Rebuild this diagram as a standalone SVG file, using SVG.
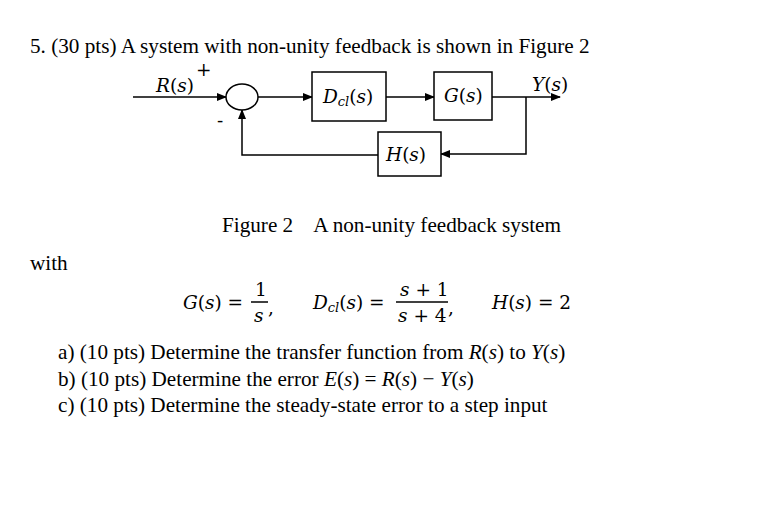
<svg xmlns="http://www.w3.org/2000/svg" width="774" height="513" viewBox="0 0 774 513">
<style>
.t{font-family:"Liberation Serif",serif;font-size:21.2px;fill:#000}
.m{font-family:"DejaVu Serif","Liberation Serif",serif;font-size:18.5px;fill:#000;font-style:italic}
.n{font-family:"DejaVu Serif","Liberation Serif",serif;font-size:18.5px;fill:#000}
.b{fill:#fff;stroke:#000;stroke-width:1.5}
.c{fill:none;stroke:#000;stroke-width:1.5}
</style>
<defs><marker id="a" markerWidth="10" markerHeight="8" refX="9" refY="4" orient="auto" markerUnits="userSpaceOnUse"><path d="M0,0L10,4L0,8z"/></marker></defs>
<rect width="774" height="513" fill="#fff"/>
<text class="t" x="30" y="53">5. (30 pts) A system with non-unity feedback is shown in Figure 2</text>
<g id="connectors">
<path class="c" d="M133,97H226" marker-end="url(#a)"/>
<path class="c" d="M258,97H312" marker-end="url(#a)"/>
<path class="c" d="M386,97H434" marker-end="url(#a)"/>
<path class="c" d="M492,97H560" marker-end="url(#a)"/>
<path class="c" d="M526,97V154H441" marker-end="url(#a)"/>
<path class="c" d="M378,155H242V110" marker-end="url(#a)"/>
</g>
<g id="sum"><ellipse class="b" cx="242" cy="97" rx="16" ry="13"/></g>
<g id="dcl"><rect class="b" x="312" y="72" width="74" height="49"/><text class="m" x="323" y="103">D<tspan font-size="13" dy="3">cl</tspan><tspan dy="-3" font-style="normal">(</tspan>s<tspan font-style="normal">)</tspan></text></g>
<g id="g"><rect class="b" x="434" y="72" width="58" height="48"/><text class="m" x="444" y="102">G<tspan font-style="normal">(</tspan>s<tspan font-style="normal">)</tspan></text></g>
<g id="h"><rect class="b" x="378" y="132" width="63" height="44"/><text class="m" x="386" y="161">H<tspan font-style="normal">(</tspan>s<tspan font-style="normal">)</tspan></text></g>
<text class="m" x="156" y="92">R<tspan font-style="normal">(</tspan>s<tspan font-style="normal">)</tspan></text>
<text class="n" x="196" y="76" font-size="14">+</text>
<text class="n" x="217" y="127" font-size="14">-</text>
<text class="m" x="532" y="91">Y<tspan font-style="normal">(</tspan>s<tspan font-style="normal">)</tspan></text>
<text class="t" x="222" y="232" xml:space="preserve">Figure 2    A non-unity feedback system</text>
<text class="t" x="30" y="270">with</text>
<text class="m" x="183" y="309">G<tspan font-style="normal">(</tspan>s<tspan font-style="normal">) =</tspan></text>
<text class="n" x="255" y="296">1</text><path class="c" d="M251,302H268" stroke-width="1"/><text class="m" x="254" y="322">s</text><text class="n" x="268" y="314">,</text>
<text class="m" x="313" y="309">D<tspan font-size="13" dy="3">cl</tspan><tspan dy="-3" font-style="normal">(</tspan>s<tspan font-style="normal">) =</tspan></text>
<text class="m" x="400" y="296">s<tspan font-style="normal"> + 1</tspan></text><path class="c" d="M396,302H448" stroke-width="1"/><text class="m" x="398" y="322">s<tspan font-style="normal"> + 4</tspan></text><text class="n" x="448" y="314">,</text>
<text class="m" x="492" y="309">H<tspan font-style="normal">(</tspan>s<tspan font-style="normal">) = 2</tspan></text>
<text class="t" x="58" y="359">a) (10 pts) Determine the transfer function from <tspan font-style="italic">R</tspan>(<tspan font-style="italic">s</tspan>) to <tspan font-style="italic">Y</tspan>(<tspan font-style="italic">s</tspan>)</text>
<text class="t" x="58" y="386">b) (10 pts) Determine the error <tspan font-style="italic">E</tspan>(<tspan font-style="italic">s</tspan>) = <tspan font-style="italic">R</tspan>(<tspan font-style="italic">s</tspan>) − <tspan font-style="italic">Y</tspan>(<tspan font-style="italic">s</tspan>)</text>
<text class="t" x="58" y="412">c) (10 pts) Determine the steady-state error to a step input</text>
</svg>
